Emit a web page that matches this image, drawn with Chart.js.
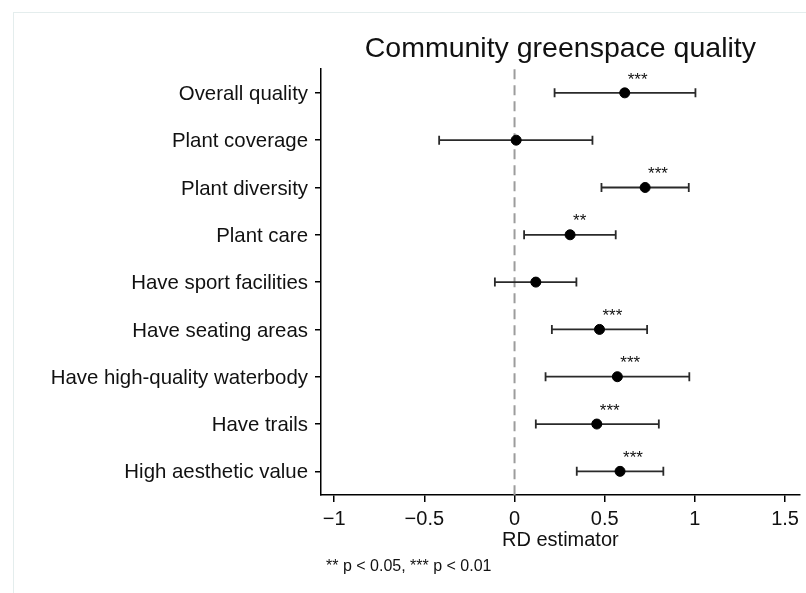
<!DOCTYPE html>
<html>
<head>
<meta charset="utf-8">
<title>Community greenspace quality</title>
<script src="https://cdn.jsdelivr.net/npm/chart.js@4/dist/chart.umd.min.js"></script>
<style>
  html, body { margin: 0; padding: 0; background: #ffffff; }
  #wrap { position: relative; width: 806px; height: 593px; overflow: hidden; }
  #frame { position: absolute; left: 13px; top: 12px; width: 820px; height: 620px;
           border: 1px solid #e4eded; box-sizing: border-box; }
  #chart { position: absolute; left: 0; top: 0; }
</style>
</head>
<body>
<div id="wrap">
  <div id="frame"></div>
  <canvas id="chart" width="806" height="593"></canvas>
</div>
<script>
// Outcomes, top to bottom
const categories = [
  'Overall quality',
  'Plant coverage',
  'Plant diversity',
  'Plant care',
  'Have sport facilities',
  'Have seating areas',
  'Have high-quality waterbody',
  'Have trails',
  'High aesthetic value'
];

// RD point estimates and confidence bounds
const estimates = [0.611, 0.009, 0.724, 0.308, 0.118, 0.471, 0.570, 0.456, 0.585];
const ciLower   = [0.222, -0.418, 0.482, 0.053, -0.109, 0.207, 0.172, 0.118, 0.345];
const ciUpper   = [1.003, 0.432, 0.966, 0.561, 0.343, 0.735, 0.969, 0.800, 0.825];

// Significance markers
const stars = ['***', '', '***', '**', '', '***', '***', '***', '***'];

// Horizontal axis ticks
const xTickValues = [-1, -0.5, 0, 0.5, 1, 1.5];
const xTickLabels = ['\u22121', '\u22120.5', '0', '0.5', '1', '1.5'];

const FONT = '"Liberation Sans", Arial, Helvetica, sans-serif';
const INK = '#111111';

// Point estimates (first dataset draws on top)
const datasets = [{
  type: 'scatter',
  label: 'RD estimate',
  data: categories.map((c, i) => ({ x: estimates[i], y: c })),
  pointRadius: 5,
  pointHoverRadius: 5,
  pointBackgroundColor: '#000000',
  pointBorderColor: '#000000',
  pointBorderWidth: 1
}];

// Confidence interval whiskers with end caps
categories.forEach((c, i) => {
  datasets.push({
    type: 'line',
    label: 'CI ' + c,
    data: [{ x: ciLower[i], y: c }, { x: ciUpper[i], y: c }],
    borderColor: '#2a2a2a',
    borderWidth: 1.8,
    pointStyle: 'line',
    pointRotation: 90,
    pointRadius: 4.5,
    pointHoverRadius: 4.5,
    pointBorderColor: '#2a2a2a',
    pointBorderWidth: 1.8,
    fill: false
  });
});

// Dashed reference line at zero
const zeroLine = {
  id: 'zeroLine',
  beforeDatasetsDraw(chart) {
    const { ctx, chartArea, scales } = chart;
    const x0 = scales.x.getPixelForValue(0);
    ctx.save();
    ctx.strokeStyle = '#9c9c9c';
    ctx.lineWidth = 2;
    ctx.setLineDash([10, 6]);
    ctx.beginPath();
    ctx.moveTo(x0, chartArea.top);
    ctx.lineTo(x0, chartArea.bottom);
    ctx.stroke();
    ctx.restore();
  }
};

// Significance stars next to each estimate, plus the footnote
const annotations = {
  id: 'annotations',
  afterDatasetsDraw(chart) {
    const { ctx } = chart;
    const meta = chart.getDatasetMeta(0);
    ctx.save();
    ctx.fillStyle = INK;
    ctx.font = '17px ' + FONT;
    ctx.textAlign = 'left';
    ctx.textBaseline = 'middle';
    meta.data.forEach((pt, i) => {
      if (stars[i]) ctx.fillText(stars[i], pt.x + 3, pt.y - 13);
    });
    ctx.font = '16px ' + FONT;
    ctx.fillText('** p < 0.05, *** p < 0.01', 326, 567);
    ctx.restore();
  }
};

new Chart(document.getElementById('chart'), {
  data: { labels: categories, datasets },
  options: {
    responsive: false,
    animation: false,
    layout: { padding: { top: 0, right: 6, bottom: 0, left: 0 } },
    plugins: {
      legend: { display: false },
      tooltip: { enabled: false },
      title: {
        display: true,
        text: 'Community greenspace quality',
        color: INK,
        fullSize: false,
        font: { family: FONT, size: 28.5, weight: 'normal' },
        padding: { top: 32, bottom: 3 }
      }
    },
    scales: {
      x: {
        type: 'linear',
        min: -1.073,
        max: 1.581,
        afterBuildTicks(scale) {
          scale.ticks = xTickValues.map(v => ({ value: v }));
        },
        afterFit(scale) { scale.height = 98; },
        grid: {
          drawOnChartArea: false,
          drawTicks: true,
          tickLength: 7,
          color: '#000000',
          lineWidth: 1.5
        },
        border: { display: true, color: '#000000', width: 1.5 },
        ticks: {
          color: INK,
          padding: 5,
          font: { family: FONT, size: 20 },
          callback(value) {
            const k = xTickValues.indexOf(value);
            return k >= 0 ? xTickLabels[k] : '';
          }
        },
        title: {
          display: true,
          text: 'RD estimator',
          color: INK,
          font: { family: FONT, size: 20 },
          padding: { top: 0, bottom: 41 }
        }
      },
      y: {
        type: 'category',
        labels: categories,
        offset: true,
        afterFit(scale) { scale.width = 321; },
        grid: {
          drawOnChartArea: false,
          drawTicks: true,
          tickLength: 6,
          color: '#000000',
          lineWidth: 1.5
        },
        border: { display: true, color: '#000000', width: 1.5 },
        ticks: {
          color: INK,
          padding: 7,
          labelOffset: 1.5,
          autoSkip: false,
          font: { family: FONT, size: 20.4 }
        }
      }
    }
  },
  plugins: [zeroLine, annotations]
});
</script>
</body>
</html>
